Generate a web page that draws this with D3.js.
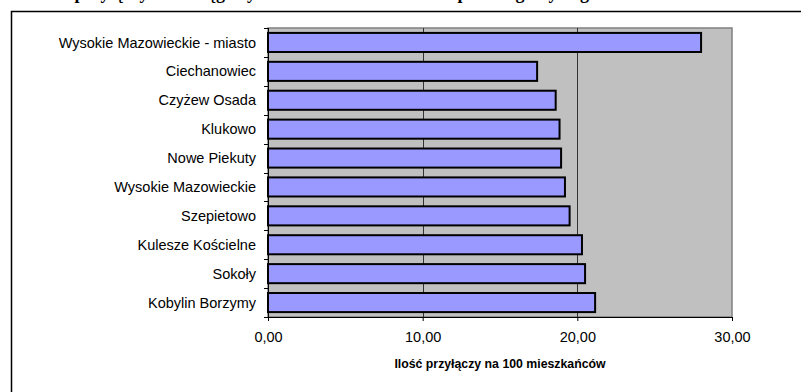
<!DOCTYPE html>
<html><head><meta charset="utf-8">
<script src="https://cdn.jsdelivr.net/npm/d3@7"></script>
<style>html,body{margin:0;padding:0;background:#fff;overflow:hidden}</style>
</head><body>
<script>
const categories = ["Wysokie Mazowieckie - miasto","Ciechanowiec","Czyżew Osada","Klukowo","Nowe Piekuty","Wysokie Mazowieckie","Szepietowo","Kulesze Kościelne","Sokoły","Kobylin Borzymy"];
const values = [28.0,17.4,18.6,18.85,18.95,19.2,19.5,20.3,20.5,21.15];
const xTicks = [0,10,20,30];
const xTitle = "Ilość przyłączy na 100 mieszkańców";
const chartTitle = "Ilość przyłączy wodociągowych na 100 mieszkańców w poszczególnych gminach";

const W = 801, H = 392;
const m = {left:268, right:732, top:28, bottom:317};
const svg = d3.select("body").append("svg").attr("width",W).attr("height",H);

// title (cut off at top, as in the reference)
svg.append("text").attr("x",340).attr("y",-1).attr("text-anchor","middle")
  .attr("font-family","Liberation Serif, Times New Roman, serif").attr("font-weight","bold")
  .attr("font-size",18).text(chartTitle);

// outer chart border
svg.append("path").attr("d",`M11.5,${H+5}V11.5H${W+5}`).attr("fill","none").attr("stroke","#000").attr("stroke-width",1.5);

const x = d3.scaleLinear().domain([0,30]).range([m.left,m.right]);
const y = d3.scaleBand().domain(categories).range([m.top,m.bottom]).paddingInner(0.34).paddingOuter(0.17);
const yb = d3.scaleBand().domain(categories).range([m.top,m.bottom]);

// plot bg
svg.append("rect").attr("x",m.left).attr("y",m.top).attr("width",m.right-m.left).attr("height",m.bottom-m.top)
  .attr("fill","#c0c0c0").attr("stroke","#808080").attr("stroke-width",1.5);

// gridlines
svg.append("g").selectAll("line").data(xTicks.filter(d=>d>0&&d<30)).join("line")
  .attr("x1",d=>Math.round(x(d))+0.5).attr("x2",d=>Math.round(x(d))+0.5)
  .attr("y1",m.top).attr("y2",m.bottom).attr("stroke","#333").attr("stroke-width",1);

// bars
svg.append("g").selectAll("rect").data(categories).join("rect")
  .attr("x",x(0)).attr("y",d=>y(d)).attr("width",(d,i)=>x(values[i])-x(0)).attr("height",y.bandwidth())
  .attr("fill","#9999ff").attr("stroke","#000").attr("stroke-width",2);

// y axis
const yAxis = svg.append("g").attr("transform",`translate(${m.left},0)`);
yAxis.append("line").attr("x1",0.5).attr("x2",0.5).attr("y1",m.top).attr("y2",m.bottom).attr("stroke","#000");
const bounds = categories.map(c=>yb(c)).concat([m.bottom]);
yAxis.selectAll("line.t").data(bounds).join("line").attr("class","t")
  .attr("x1",-4).attr("x2",0).attr("y1",d=>Math.round(d)+0.5).attr("y2",d=>Math.round(d)+0.5).attr("stroke","#000");
yAxis.selectAll("text").data(categories).join("text")
  .attr("x",-12).attr("y",d=>yb(d)+yb.bandwidth()/2).attr("dy","0.35em").attr("text-anchor","end")
  .attr("font-family","Liberation Sans, Arial, sans-serif").attr("font-size",14.5).attr("fill","#000").text(d=>d);

// x axis
const xAxis = svg.append("g").attr("transform",`translate(0,${m.bottom})`)
  .call(d3.axisBottom(x).tickValues(xTicks).tickSize(4).tickPadding(11).tickFormat(d=>d3.format(".2f")(d).replace(".",",")));
xAxis.select(".domain").attr("stroke","#000");
xAxis.selectAll(".tick line").attr("stroke","#000");
xAxis.selectAll("text").attr("font-family","Liberation Sans, Arial, sans-serif").attr("font-size",14.5).attr("fill","#000");

svg.append("text").attr("x",(m.left+m.right)/2).attr("y",368).attr("text-anchor","middle")
  .attr("font-family","Liberation Sans, Arial, sans-serif").attr("font-weight","bold").attr("font-size",12.3).text(xTitle);
</script>
</body></html>
